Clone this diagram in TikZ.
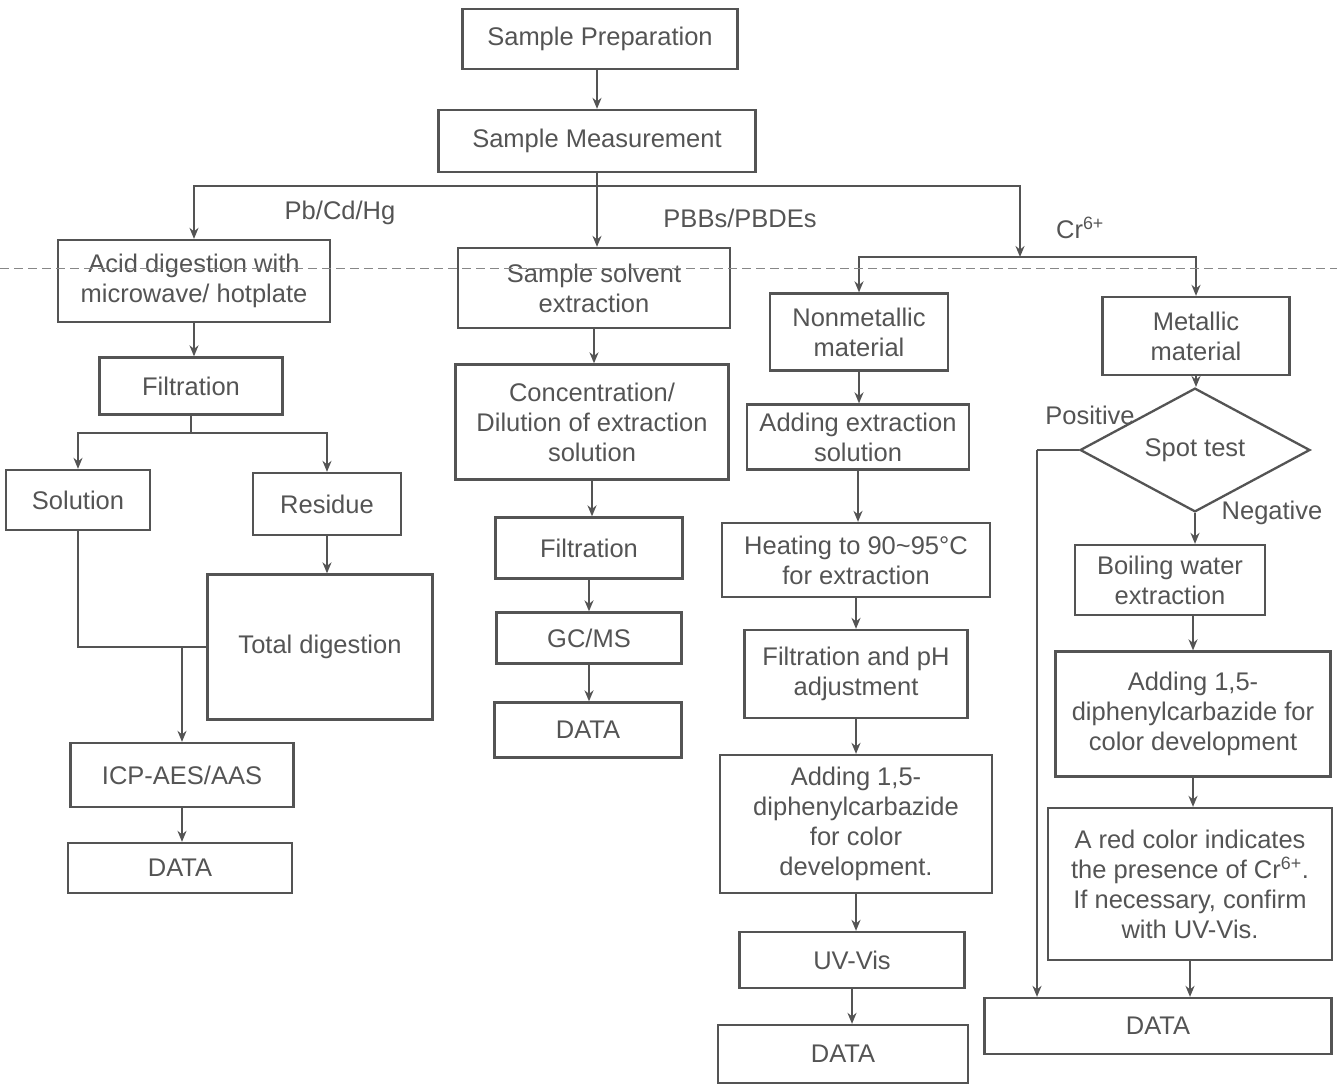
\documentclass[tikz,border=0pt]{standalone}
\usepackage{fontspec}
\setmainfont{Liberation Sans}
\usepackage{xcolor}
\usetikzlibrary{shapes.geometric,arrows.meta}
\definecolor{inkgray}{gray}{0.33}

\begin{document}
\begin{tikzpicture}[x=1pt, y=-1pt, >={Stealth[length=11pt,width=9pt]},
        every node/.style={font=\fontsize{25.5}{30}\selectfont, text=inkgray},
        box/.style={draw=inkgray, line width=2.3pt, align=center, inner sep=2pt},
        link/.style={draw=inkgray, line width=2.3pt},
        fold/.style={draw=inkgray!70, line width=0.8pt, dash pattern=on 9pt off 5pt}]
        \useasboundingbox (0,0) rectangle (1337,1091);

        % Top of the chart
        \node[box, minimum width=275, minimum height=60] (prep) at (600,39) {Sample Preparation};
        \node[box, minimum width=317, minimum height=62] (meas) at (597,141) {Sample Measurement};

        % Pb/Cd/Hg column
        \node[box, minimum width=272, minimum height=82] (acid) at (194,281) {Acid digestion with\\microwave/ hotplate};
        \node[box, minimum width=183, minimum height=57] (filtA) at (191,386) {Filtration};
        \node[box, minimum width=144, minimum height=60] (sol) at (78,500) {Solution};
        \node[box, minimum width=148, minimum height=62] (res) at (327,504) {Residue};
        \node[box, minimum width=225, minimum height=145] (total) at (320,647) {Total digestion};
        \node[box, minimum width=223, minimum height=64] (icp) at (182,775) {ICP-AES/AAS};
        \node[box, minimum width=224, minimum height=50] (dataA) at (180,868) {DATA};

        % PBBs/PBDEs column
        \node[box, minimum width=272, minimum height=80] (solv) at (594,288) {Sample solvent\\extraction};
        \node[box, minimum width=273, minimum height=115] (conc) at (592,422) {Concentration/\\Dilution of extraction\\solution};
        \node[box, minimum width=187, minimum height=61] (filtB) at (589,548) {Filtration};
        \node[box, minimum width=185, minimum height=51] (gcms) at (589,638) {GC/MS};
        \node[box, minimum width=187, minimum height=55] (dataB) at (588,730) {DATA};

        % Cr6+ nonmetallic column
        \node[box, minimum width=178, minimum height=77] (nonmet) at (859,332) {Nonmetallic\\material};
        \node[box, minimum width=222, minimum height=65] (addext) at (858,437) {Adding extraction\\solution};
        \node[box, minimum width=268, minimum height=74] (heat) at (856,560) {Heating to 90\textasciitilde95°C\\for extraction};
        \node[box, minimum width=223, minimum height=88] (filtph) at (856,674) {Filtration and pH\\adjustment};
        \node[box, minimum width=272, minimum height=138] (dpcA) at (856,824) {Adding 1,5-\\diphenylcarbazide\\for color\\development.};
        \node[box, minimum width=225, minimum height=56] (uvvis) at (852,960) {UV-Vis};
        \node[box, minimum width=250, minimum height=58] (dataC) at (843,1054) {DATA};

        % Cr6+ metallic column
        \node[box, minimum width=187, minimum height=78] (metal) at (1196,336) {Metallic\\material};
        \node[box, diamond, inner sep=0pt, minimum width=230, minimum height=74] (spot) at (1195,450) {Spot test};
        \node[box, minimum width=190, minimum height=70] (boil) at (1170,580) {Boiling water\\extraction};
        \node[box, minimum width=275, minimum height=125] (dpcB) at (1193,714) {Adding 1,5-\\diphenylcarbazide for\\color development};
        \node[box, minimum width=284, minimum height=152] (red) at (1190,884) {A red color indicates\\the presence of Cr\textsuperscript{6+}.\\If necessary, confirm\\with UV-Vis.};
        \node[box, minimum width=347, minimum height=56] (dataD) at (1158,1026) {DATA};

        % Branch labels
        \node (pbtag) at (340,213) {Pb/Cd/Hg};
        \node (pbbtag) at (740,218) {PBBs/PBDEs};
        \node (crtag) at (1080,228) {Cr\textsuperscript{6+}};
        \node (postag) at (1090,415) {Positive};
        \node (negtag) at (1272,513) {Negative};

        % Branch points
        \coordinate (fork) at (597,186);
        \coordinate (crfork) at (1020,257);
        \coordinate (pbfork) at (191,433);
        \coordinate (merge) at (icp.north |- total.west);
        \coordinate (posturn) at (1037,450);

        % Main split
        \draw[link, ->] (prep.south -| meas.north) -- (meas.north);
        \draw[link, ->] (meas.south) -- (meas.south |- solv.north);
        \draw[link, ->] (fork) -| (acid.north);
        \draw[link, ->] (fork) -| (crfork);
        \draw[link, ->] (crfork) -| (nonmet.north);
        \draw[link, ->] (crfork) -| (metal.north);

        % Pb/Cd/Hg arrows
        \draw[link, ->] (acid.south) -- (acid.south |- filtA.north);
        \draw[link] (filtA.south) -- (pbfork);
        \draw[link, ->] (pbfork) -| (sol.north);
        \draw[link, ->] (pbfork) -| (res.north);
        \draw[link, ->] (res.south) -- (res.south |- total.north);
        \draw[link] (sol.south) |- (total.west);
        \draw[link, ->] (merge) -- (icp.north);
        \draw[link, ->] (icp.south) -- (icp.south |- dataA.north);

        % PBBs/PBDEs arrows
        \draw[link, ->] (solv.south) -- (solv.south |- conc.north);
        \draw[link, ->] (conc.south) -- (conc.south |- filtB.north);
        \draw[link, ->] (filtB.south) -- (filtB.south |- gcms.north);
        \draw[link, ->] (gcms.south) -- (gcms.south |- dataB.north);

        % Nonmetallic arrows
        \draw[link, ->] (nonmet.south) -- (nonmet.south |- addext.north);
        \draw[link, ->] (addext.south) -- (addext.south |- heat.north);
        \draw[link, ->] (heat.south) -- (heat.south |- filtph.north);
        \draw[link, ->] (filtph.south) -- (filtph.south |- dpcA.north);
        \draw[link, ->] (dpcA.south) -- (dpcA.south |- uvvis.north);
        \draw[link, ->] (uvvis.south) -- (uvvis.south |- dataC.north);

        % Metallic arrows
        \draw[link, ->] (metal.south) -- (metal.south |- spot.north);
        \draw[link, ->] (spot.south) -- (spot.south |- boil.north);
        \draw[link] (spot.west) -- (posturn);
        \draw[link, ->] (posturn) -- (posturn |- dataD.north);
        \draw[link, ->] (boil.south -| dpcB.north) -- (dpcB.north);
        \draw[link, ->] (dpcB.south) -- (dpcB.south |- red.north);
        \draw[link, ->] (red.south) -- (red.south |- dataD.north);

        % Fold line across the sheet
        \draw[fold] (0,268) -- (1337,268);
    \end{tikzpicture}
\end{document}
